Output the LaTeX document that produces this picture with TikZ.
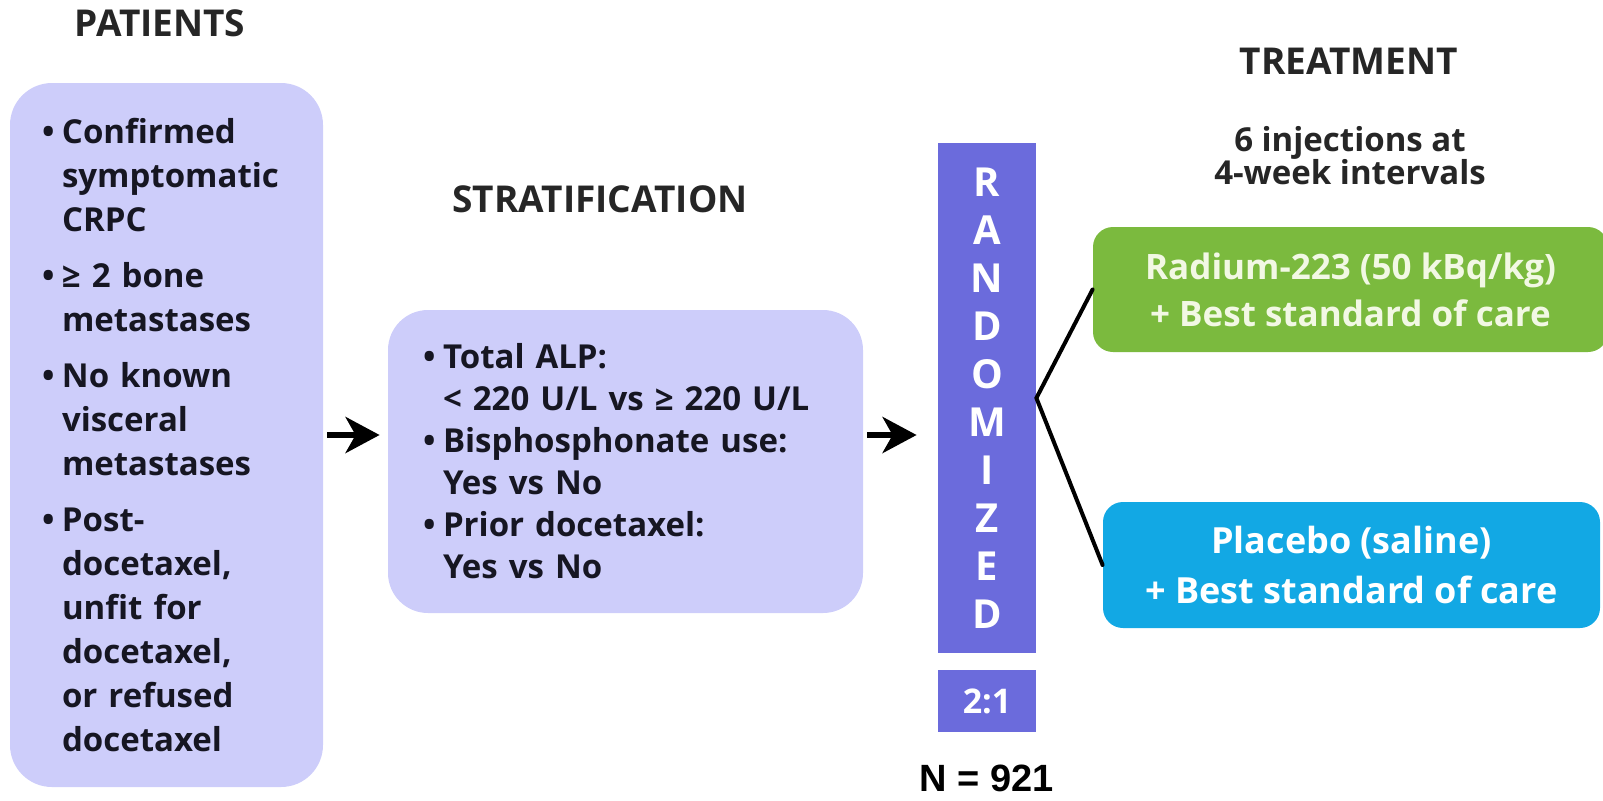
\documentclass[tikz,border=0pt]{standalone}
\usepackage{xcolor}
\usepackage{fontspec}
\setmainfont{Open Sans}
\newfontfamily\arialfont{Liberation Sans}
\usepackage{tikz}
\usetikzlibrary{arrows.meta,positioning,calc}

\definecolor{lav}{RGB}{205,205,250}
\definecolor{rndblue}{RGB}{107,107,220}
\definecolor{radgreen}{RGB}{123,186,62}
\definecolor{placblue}{RGB}{18,168,228}
\definecolor{cream}{RGB}{242,248,228}
\definecolor{ink}{RGB}{22,22,34}

\newcommand{\bul}[1]{\makebox[10pt][l]{•}#1}
\newcommand{\cont}[1]{\hspace*{10pt}#1}

\begin{document}
\begin{tikzpicture}[x=0.5pt,y=-0.5pt,
  panel/.style={fill=lav,rounded corners=21pt,inner sep=0pt,align=left,text=ink},
  head/.style={font=\bfseries\fontsize{18.5}{22}\selectfont,text=black!85},
  arm/.style={fill=#1,rounded corners=10pt,inner sep=0pt,align=center,text=white},
  rndbar/.style={fill=rndblue,inner sep=0pt,text=white,align=center,minimum width=49pt},
  arr/.style={-{Stealth[length=17pt,width=18pt,inset=5pt]},line width=3pt},
  link/.style={line width=2pt,line cap=round}]
	\useasboundingbox (0,0) rectangle (1603,800);
	% headings
	\node[head] (pathead) at (160,23) {PATIENTS};
	\node[head] (strathead) at (600,199) {STRATIFICATION};
	\node[head] (trthead) at (1349,61) {TREATMENT};
	\node[head,align=center,font=\bfseries\fontsize{16.5}{16.5}\selectfont] (sched) at (1350,156) {6 injections at\\4-week intervals};
	% boxes
	\node[panel,text width=124.5pt,inner xsep=16pt,minimum height=352pt,
	  font=\bfseries\fontsize{16.5}{22}\selectfont] (pat) at (166.5,435) {%
	  \bul{Confirmed}\\ \cont{symptomatic}\\ \cont{CRPC}\\[6pt]
	  \bul{≥ 2 bone}\\ \cont{metastases}\\[6pt]
	  \bul{No known}\\ \cont{visceral}\\ \cont{metastases}\\[6pt]
	  \bul{Post-}\\ \cont{docetaxel,}\\ \cont{unfit for}\\ \cont{docetaxel,}\\ \cont{or refused}\\ \cont{docetaxel}};
	\node[panel,rounded corners=20pt,text width=202.5pt,inner xsep=17.5pt,minimum height=151.5pt,
	  font=\bfseries\fontsize{16.5}{21}\selectfont] (strat) at (625.5,461.5) {%
	  \bul{Total ALP:}\\ \cont{< 220 U/L vs ≥ 220 U/L}\\
	  \bul{Bisphosphonate use:}\\ \cont{Yes vs No}\\
	  \bul{Prior docetaxel:}\\ \cont{Yes vs No}};
	\node[rndbar,minimum height=255pt,font=\bfseries\fontsize{20}{24}\selectfont] (rnd) at (987,398) {R\\A\\N\\D\\O\\M\\I\\Z\\E\\D};
	\node[rndbar,minimum height=31pt,font=\bfseries\fontsize{17}{20}\selectfont] (ratio) at (987,701) {2:1};
	\node[font=\arialfont\bfseries\fontsize{19}{22}\selectfont] (total) at (987,778) {N = 921};
	\node[arm=radgreen,text=cream,minimum width=257.5pt,minimum height=62.5pt,
	  font=\bfseries\fontsize{17.5}{23.5}\selectfont] (rad) at (1350.5,289.5) {Radium-223 (50 kBq/kg)\\+ Best standard of care};
	\node[arm=placblue,minimum width=248.5pt,minimum height=63pt,
	  font=\bfseries\fontsize{18}{25}\selectfont] (plac) at (1351.5,565) {Placebo (saline)\\+ Best standard of care};
	% connectors
	\draw[arr,shorten <=2pt,shorten >=4pt] (pat.east) -- (pat.east -| strat.west);
	\draw[arr,shorten <=2pt,shorten >=10.5pt] (strat.east |- pat.east) -- (pat.east -| rnd.west);
	\draw[link] (rad.west) -- (rnd.east) -- (plac.west);
\end{tikzpicture}
\end{document}
